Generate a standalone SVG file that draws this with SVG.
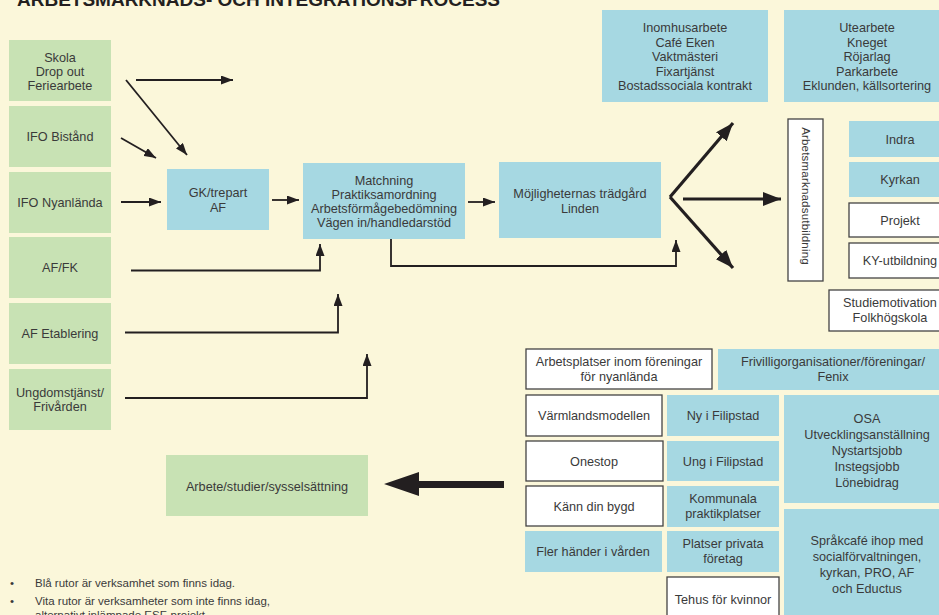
<svg xmlns="http://www.w3.org/2000/svg" width="939" height="615" viewBox="0 0 939 615">
<defs>
<style>
text{font-family:"Liberation Sans",Arial,sans-serif;font-size:12.7px;fill:#3a3a3a;text-anchor:middle}
.g{fill:#c8e2b4}
.b{fill:#a6d8e2}
.w{fill:#ffffff;stroke:#444;stroke-width:1.3}
.c{fill:none;stroke:#231f20;stroke-width:1.8}
.t{fill:none;stroke:#231f20;stroke-width:3.2}
.leg{text-anchor:start;font-size:11.5px}
</style>
<marker id="a" markerUnits="userSpaceOnUse" markerWidth="12" markerHeight="9" refX="12" refY="4.5" orient="auto"><path d="M0,0L12,4.5L0,9z" fill="#231f20"/></marker>
<marker id="A" markerUnits="userSpaceOnUse" markerWidth="18" markerHeight="14" refX="18" refY="7" orient="auto"><path d="M0,0L18,7L0,14z" fill="#231f20"/></marker>
</defs>
<rect width="939" height="615" fill="#fbf7da"/>
<text x="17" y="5.5" textLength="483" lengthAdjust="spacingAndGlyphs" style="text-anchor:start;font-weight:bold;font-size:19px;fill:#231f20">ARBETSMARKNADS- OCH INTEGRATIONSPROCESS</text>

<g id="skola"><rect class="g" x="9" y="40" width="102" height="61"/><text x="60" y="62">Skola</text><text x="60" y="76">Drop out</text><text x="60" y="90">Feriearbete</text></g>
<g id="ifo-bistand"><rect class="g" x="9" y="106" width="102" height="61"/><text x="60" y="141">IFO Bistånd</text></g>
<g id="ifo-nyanlanda"><rect class="g" x="9" y="172" width="102" height="61"/><text x="60" y="207">IFO Nyanlända</text></g>
<g id="af-fk"><rect class="g" x="9" y="237" width="102" height="61"/><text x="60" y="272">AF/FK</text></g>
<g id="af-etablering"><rect class="g" x="9" y="303" width="102" height="61"/><text x="60" y="338">AF Etablering</text></g>
<g id="ungdomstjanst"><rect class="g" x="9" y="369" width="102" height="61"/><text x="60" y="397">Ungdomstjänst/</text><text x="60" y="411">Frivården</text></g>

<g id="gk"><rect class="b" x="167" y="169" width="102" height="61"/><text x="218" y="197">GK/trepart</text><text x="218" y="212">AF</text></g>
<g id="matchning"><rect class="b" x="303" y="163" width="162" height="76"/><text x="384" y="185">Matchning</text><text x="384" y="198.5">Praktiksamordning</text><text x="384" y="213">Arbetsförmågebedömning</text><text x="384" y="227">Vägen in/handledarstöd</text></g>
<g id="mojligheternas"><rect class="b" x="499" y="162" width="162" height="76"/><text x="580" y="198">Möjligheternas trädgård</text><text x="580" y="213">Linden</text></g>

<g id="inomhus"><rect class="b" x="602" y="10" width="166" height="92"/><text x="685" y="32">Inomhusarbete</text><text x="685" y="46.5">Café Eken</text><text x="685" y="61">Vaktmästeri</text><text x="685" y="75.5">Fixartjänst</text><text x="685" y="90">Bostadssociala kontrakt</text></g>
<g id="ute"><rect class="b" x="784" y="10" width="166" height="92"/><text x="867" y="32">Utearbete</text><text x="867" y="46.5">Kneget</text><text x="867" y="61">Röjarlag</text><text x="867" y="75.5">Parkarbete</text><text x="867" y="90">Eklunden, källsortering</text></g>

<g id="amu"><rect class="w" x="788" y="119" width="35" height="162"/><text transform="translate(802,196) rotate(90)" style="font-size:11.5px;letter-spacing:0.2px">Arbetsmarknadsutbildning</text></g>
<g id="indra"><rect class="b" x="849" y="121" width="102" height="36"/><text x="900" y="143.5">Indra</text></g>
<g id="kyrkan"><rect class="b" x="849" y="162" width="102" height="35"/><text x="900" y="184">Kyrkan</text></g>
<g id="projekt"><rect class="w" x="849" y="203" width="102" height="34"/><text x="900" y="224.5">Projekt</text></g>
<g id="ky"><rect class="w" x="849" y="243" width="102" height="35"/><text x="900" y="265">KY-utbildning</text></g>
<g id="studiemotivation"><rect class="w" x="829" y="290" width="122" height="41"/><text x="890" y="307">Studiemotivation</text><text x="890" y="321.5">Folkhögskola</text></g>

<g id="arbetsplatser"><rect class="w" x="526" y="349" width="186" height="40"/><text x="619" y="366">Arbetsplatser inom föreningar</text><text x="619" y="381">för nyanlända</text></g>
<g id="frivillig"><rect class="b" x="718" y="349" width="232" height="41"/><text x="833" y="366">Frivilligorganisationer/föreningar/</text><text x="833" y="381">Fenix</text></g>
<g id="varmland"><rect class="w" x="526" y="395" width="136" height="41"/><text x="594" y="420">Värmlandsmodellen</text></g>
<g id="ny"><rect class="b" x="667" y="395" width="112" height="41"/><text x="723" y="420">Ny i Filipstad</text></g>
<g id="osa"><rect class="b" x="784" y="395" width="166" height="108"/><text x="867" y="422.5">OSA</text><text x="867" y="438.5">Utvecklingsanställning</text><text x="867" y="455">Nystartsjobb</text><text x="867" y="471">Instegsjobb</text><text x="867" y="487">Lönebidrag</text></g>
<g id="onestop"><rect class="w" x="526" y="441" width="137" height="40"/><text x="594" y="466">Onestop</text></g>
<g id="ung"><rect class="b" x="667" y="441" width="112" height="40"/><text x="723" y="466">Ung i Filipstad</text></g>
<g id="kann"><rect class="w" x="526" y="486" width="137" height="40"/><text x="594" y="511">Känn din bygd</text></g>
<g id="kommunala"><rect class="b" x="667" y="486" width="112" height="41"/><text x="723" y="503">Kommunala</text><text x="723" y="518">praktikplatser</text></g>
<g id="sprakcafe"><rect class="b" x="784" y="509" width="166" height="110"/><text x="867" y="544.5">Språkcafé ihop med</text><text x="867" y="561">socialförvaltningen,</text><text x="867" y="577">kyrkan, PRO, AF</text><text x="867" y="593">och Eductus</text></g>
<g id="fler"><rect class="b" x="525" y="531" width="137" height="41"/><text x="593" y="556">Fler händer i vården</text></g>
<g id="platser"><rect class="b" x="667" y="531" width="112" height="41"/><text x="723" y="548">Platser privata</text><text x="723" y="563">företag</text></g>
<g id="tehus"><rect class="w" x="667" y="577" width="112" height="45"/><text x="723" y="603.5">Tehus för kvinnor</text></g>

<g id="arbete"><rect class="g" x="166" y="455" width="202" height="61"/><text x="267" y="491">Arbete/studier/sysselsättning</text></g>

<g id="connectors">
<path class="c" d="M136,80H233" marker-end="url(#a)"/>
<path class="c" d="M126,80L187,155" marker-end="url(#a)"/>
<path class="c" d="M121,138L156,158" marker-end="url(#a)"/>
<path class="c" d="M121,202H161" marker-end="url(#a)"/>
<path class="c" d="M272,200H299" marker-end="url(#a)"/>
<path class="c" d="M468,202H495" marker-end="url(#a)"/>
<path class="c" d="M131,270.5H320V244" marker-end="url(#a)"/>
<path class="c" d="M125,332.5H338V294" marker-end="url(#a)"/>
<path class="c" d="M125,398H367V354" marker-end="url(#a)"/>
<path class="c" d="M391,239V266H676V240" marker-end="url(#a)"/>
<path class="t" d="M670,197L733,123" marker-end="url(#A)"/>
<path class="t" d="M670,197L733,268" marker-end="url(#A)"/>
<path class="t" d="M683,199H781" marker-end="url(#A)"/>
<path d="M504,481H419V472L384,484L419,496V488H504z" fill="#231f20"/>
</g>

<g id="legend">
<text class="leg" x="10" y="587">•</text><text class="leg" x="35" y="587">Blå rutor är verksamhet som finns idag.</text>
<text class="leg" x="10" y="605">•</text><text class="leg" x="35" y="605">Vita rutor är verksamheter som inte finns idag,</text>
<text class="leg" x="35" y="619">alternativt inlämpade ESF-projekt</text>
</g>
</svg>
